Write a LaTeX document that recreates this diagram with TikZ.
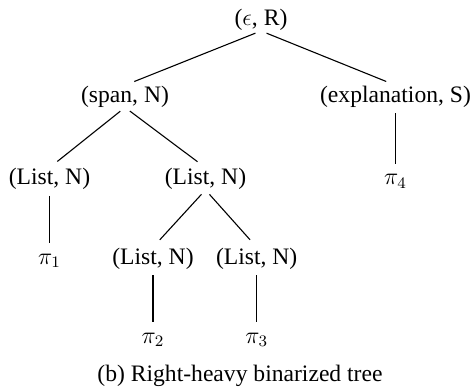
\documentclass[tikz,border=0pt]{standalone}
\usepackage{fontspec}
\setmainfont{Liberation Serif}
\begin{document}
\begin{tikzpicture}[x=0.5pt,y=-0.5pt,
  lbl/.style={anchor=base, inner sep=0pt, font=\fontsize{11.8}{14}\selectfont},
  branch/.style={draw, line width=0.55pt, shorten <=3pt, shorten >=5pt}]
\useasboundingbox (0,0) rectangle (473,387);
\node[lbl] (root) at (261,25.5) {($\epsilon$, R)};
\node[lbl] (span) at (125,102) {(span, N)};
\node[lbl] (expl) at (395.5,102) {(explanation, S)};
\node[lbl] (l1) at (49.5,184.5) {(List, N)};
\node[lbl] (l2) at (205.5,184.5) {(List, N)};
\node[lbl] (p4) at (395.5,184.5) {$\pi_4$};
\node[lbl] (p1) at (49.5,264) {$\pi_1$};
\node[lbl] (l3) at (153,264) {(List, N)};
\node[lbl] (l4) at (256.7,264) {(List, N)};
\node[lbl] (p2) at (153,343) {$\pi_2$};
\node[lbl] (p3) at (256.7,343) {$\pi_3$};
\node[lbl] (cap) at (240,381) {(b) Right-heavy binarized tree};
\draw[branch] (root.south) -- (span.north);
\draw[branch] (root.south) -- (expl.north);
\draw[branch] (span.south) -- (l1.north);
\draw[branch] (span.south) -- (l2.north);
\draw[branch] (expl.south) -- (p4.north);
\draw[branch] (l1.south) -- (p1.north);
\draw[branch] (l2.south) -- (l3.north);
\draw[branch] (l2.south) -- (l4.north);
\draw[branch] (l3.south) -- (p2.north);
\draw[branch] (l4.south) -- (p3.north);
\end{tikzpicture}
\end{document}
